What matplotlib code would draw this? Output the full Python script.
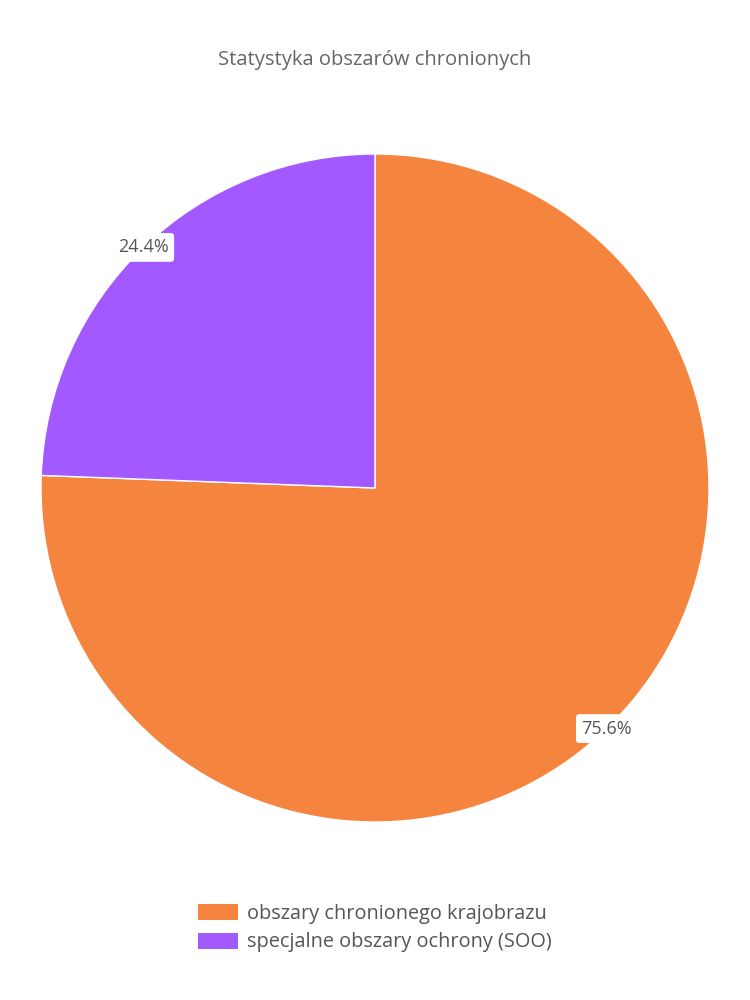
import matplotlib
matplotlib.use("Agg")
import matplotlib.pyplot as plt
from matplotlib.patches import Patch
import numpy as np

categories = ["obszary chronionego krajobrazu", "specjalne obszary ochrony (SOO)"]
values = [75.6, 24.4]
colors = ["#F5843F", "#A259FF"]
title = "Statystyka obszarów chronionych"

plt.rcParams['font.family'] = ['Open Sans', 'DejaVu Sans']

fig = plt.figure(figsize=(7.5, 10), dpi=100)
cx, cy, r = 375, 488, 334
ax = fig.add_axes([(cx - r) / 750, (1000 - cy - r) / 1000, 2 * r / 750, 2 * r / 1000])
wedges, texts = ax.pie(values, colors=colors, startangle=90, counterclock=False,
                       radius=1.0, wedgeprops=dict(edgecolor="white", linewidth=1))
ax.set_xlim(-1, 1)
ax.set_ylim(-1, 1)
ax.set_aspect("equal")
ax.axis("off")

total = sum(values)
start = 90.0
for v in values:
    ang = start - v / total * 360 / 2
    x, y = np.cos(np.radians(ang)), np.sin(np.radians(ang))
    ax.text(x * 1.0, y * 1.0, f"{v:.1f}%", ha="center", va="center", fontsize=13,
            color="#555555",
            bbox=dict(boxstyle="round,pad=0.3,rounding_size=0.2", fc="white", ec="none"))
    start -= v / total * 360

fig.text(0.5, 0.94, title, ha="center", va="center", fontsize=14.5, color="#666666")

handles = [Patch(facecolor=c, edgecolor="none") for c in colors]
fig.legend(handles, categories, loc="center", bbox_to_anchor=(0.5, 0.072), frameon=False,
           fontsize=14.3, labelcolor="#555555", handlelength=2.0, handleheight=0.85,
           labelspacing=0.45, handletextpad=0.5)

fig.savefig("out.png", dpi=100)
